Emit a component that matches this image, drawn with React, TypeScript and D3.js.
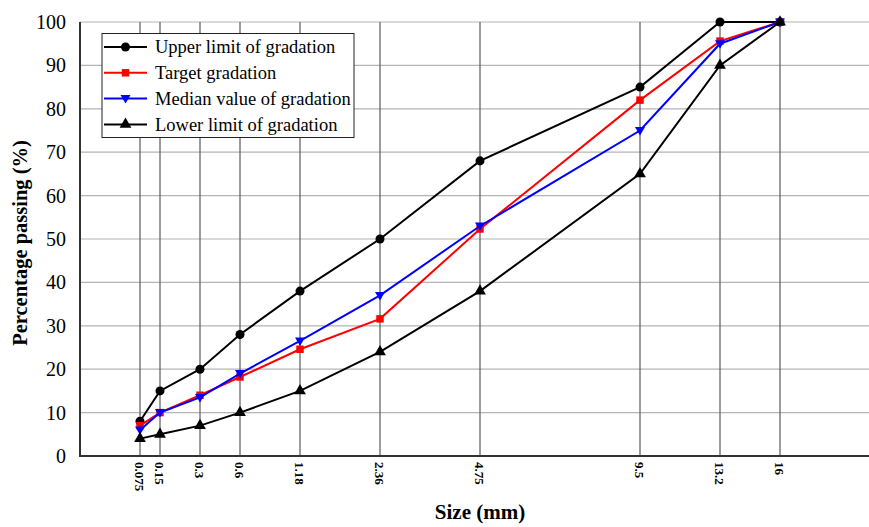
import React, { useEffect, useRef } from "react";
import * as d3 from "d3";

// sieve sizes (mm) and their 0.45-power abscissa as plotted
const sieves = ["0.075", "0.15", "0.3", "0.6", "1.18", "2.36", "4.75", "9.5", "13.2", "16"];
const sievePos = [0.3, 0.4, 0.6, 0.8, 1.1, 1.5, 2.0, 2.8, 3.2, 3.5];

const upper = [8, 15, 20, 28, 38, 50, 68, 85, 100, 100];
const target = [7, 10, 14, 18.2, 24.6, 31.6, 52.3, 82, 95.6, 100];
const median = [6, 10, 13.5, 19, 26.5, 37, 53, 75, 95, 100];
const lower = [4, 5, 7, 10, 15, 24, 38, 65, 90, 100];

const yTicks = [0, 10, 20, 30, 40, 50, 60, 70, 80, 90, 100];

const series = [
    { name: "Upper limit of gradation", values: upper, color: "#000000", marker: "circle" },
    { name: "Target gradation", values: target, color: "#ff0000", marker: "square" },
    { name: "Median value of gradation", values: median, color: "#0000ff", marker: "triangleDown" },
    { name: "Lower limit of gradation", values: lower, color: "#000000", marker: "triangle" },
];

const W = 869, H = 527;
const font = "'Liberation Serif', 'Times New Roman', serif";

function markerPath(type: string) {
    if (type === "circle") return d3.symbol(d3.symbolCircle, 64)();
    if (type === "square") return d3.symbol(d3.symbolSquare, 56)();
    if (type === "triangle") return d3.symbol(d3.symbolTriangle, 60)();
    return "M-5,-3.5L5,-3.5L0,5Z";
}

export default function App() {
    const ref = useRef<SVGSVGElement>(null);

    useEffect(() => {
        const svg = d3.select(ref.current);
        svg.selectAll("*").remove();

        const x = d3.scaleLinear().domain([0, 4]).range([80, 880]);
        const y = d3.scaleLinear().domain([0, 100]).range([456, 22]);

        const g = svg.append("g");

        // horizontal grid
        g.append("g")
            .selectAll("line")
            .data(yTicks.slice(1))
            .join("line")
            .attr("x1", x(0)).attr("x2", W)
            .attr("y1", d => y(d)).attr("y2", d => y(d))
            .attr("stroke", "#b4b4b4").attr("stroke-width", 1.2);

        // vertical grid at sieves
        g.append("g")
            .selectAll("line")
            .data(sievePos)
            .join("line")
            .attr("x1", d => x(d)).attr("x2", d => x(d))
            .attr("y1", y(100)).attr("y2", y(0))
            .attr("stroke", "#5a5a5a").attr("stroke-width", 1.2);

        // axes lines
        g.append("line")
            .attr("x1", x(0)).attr("x2", W)
            .attr("y1", y(0)).attr("y2", y(0))
            .attr("stroke", "#333").attr("stroke-width", 2.2);
        g.append("line")
            .attr("x1", x(0)).attr("x2", x(0))
            .attr("y1", y(100)).attr("y2", y(0) + 1)
            .attr("stroke", "#333").attr("stroke-width", 2);

        // y tick labels
        g.append("g")
            .selectAll("text")
            .data(yTicks)
            .join("text")
            .attr("x", 66)
            .attr("y", d => y(d))
            .attr("dy", "0.35em")
            .attr("text-anchor", "end")
            .attr("font-family", font)
            .attr("font-size", 20)
            .text(d => d);

        // x tick labels (rotated)
        g.append("g")
            .selectAll("text")
            .data(sievePos)
            .join("text")
            .attr("transform", d => `translate(${x(d)},${y(0) + 6}) rotate(90)`)
            .attr("dy", "0.35em")
            .attr("font-family", font)
            .attr("font-weight", "bold")
            .attr("font-size", 13)
            .text((d, i) => sieves[i]);

        // axis titles
        g.append("text")
            .attr("x", 480).attr("y", 519)
            .attr("text-anchor", "middle")
            .attr("font-family", font)
            .attr("font-weight", "bold")
            .attr("font-size", 21)
            .text("Size (mm)");
        g.append("text")
            .attr("transform", `translate(27,${y(50) + 4}) rotate(-90)`)
            .attr("text-anchor", "middle")
            .attr("font-family", font)
            .attr("font-weight", "bold")
            .attr("font-size", 20.5)
            .text("Percentage passing (%)");

        // series
        const line = d3.line<number>()
            .x((d, i) => x(sievePos[i]))
            .y(d => y(d));

        series.forEach(s => {
            g.append("path")
                .datum(s.values)
                .attr("fill", "none")
                .attr("stroke", s.color)
                .attr("stroke-width", 2)
                .attr("d", line);
            g.append("g")
                .selectAll("path")
                .data(s.values)
                .join("path")
                .attr("transform", (d, i) => `translate(${x(sievePos[i])},${y(d)})`)
                .attr("d", markerPath(s.marker))
                .attr("fill", s.color);
        });

        // legend
        const lg = g.append("g");
        lg.append("rect")
            .attr("x", 102).attr("y", 33.5)
            .attr("width", 252).attr("height", 104)
            .attr("fill", "#fff")
            .attr("stroke", "#222").attr("stroke-width", 1);
        series.forEach((s, i) => {
            const ly = 47 + i * 25.8;
            lg.append("line")
                .attr("x1", 104).attr("x2", 147)
                .attr("y1", ly).attr("y2", ly)
                .attr("stroke", s.color).attr("stroke-width", 2);
            lg.append("path")
                .attr("transform", `translate(125.5,${ly})`)
                .attr("d", markerPath(s.marker))
                .attr("fill", s.color);
            lg.append("text")
                .attr("x", 155).attr("y", ly)
                .attr("dy", "0.33em")
                .attr("font-family", font)
                .attr("font-size", 18.5)
                .text(s.name);
        });
    }, []);

    return (
        <svg ref={ref} width={W} height={H}
            style={{ position: "absolute", left: 0, top: 0, background: "#fff" }} />
    );
}
